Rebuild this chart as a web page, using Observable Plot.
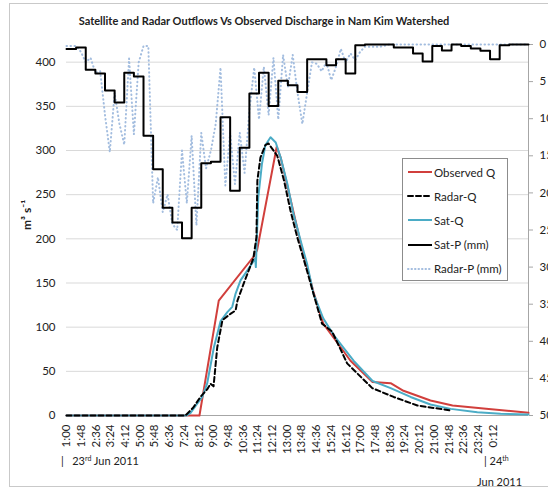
<!DOCTYPE html>
<html>
<head>
<meta charset="utf-8">
<script src="https://cdn.jsdelivr.net/npm/d3@7"></script>
<script src="https://cdn.jsdelivr.net/npm/@observablehq/plot@0.6"></script>
<style>
  html, body { margin: 0; padding: 0; background: #fff; overflow: hidden; }
  #wrap { position: relative; width: 548px; height: 488px; overflow: hidden; font-family: Lato, "Open Sans", sans-serif; color: #222; }
  #border { position: absolute; left: 9px; top: 3px; width: 600px; height: 484px; border: 1px solid #c9c9c9; box-sizing: border-box; }
  #chart { position: absolute; left: 0; top: 0; width: 560px; height: 488px; }
  #chart svg { max-width: none !important; }
  #title { position: absolute; left: 0; top: 14px; width: 528px; text-align: center; font-weight: bold; font-size: 11px; line-height: 14px; white-space: nowrap; }
  #legend { position: absolute; left: 402px; top: 158px; width: 106px; height: 123px; border: 1px solid #8c8c8c; background: #fff; box-sizing: border-box; }
  .lrow { position: absolute; left: 4px; height: 16px; display: flex; align-items: center; font-size: 11.5px; white-space: nowrap; }
  .lrow svg { margin-right: 1px; }
  .note { position: absolute; font-size: 11px; line-height: 12px; white-space: nowrap; }
  .note sup { font-size: 7px; vertical-align: 4px; line-height: 0; }
</style>
</head>
<body>
<div id="wrap">
  <div id="border"></div>
  <div id="chart"></div>
  <div id="title"></div>
  <div id="legend"></div>
  <div class="note" style="left:61px; top:455px;">|&nbsp;&nbsp; 23<sup>rd</sup> Jun 2011</div>
  <div class="note" style="left:484px; top:455px;">| 24<sup>th</sup></div>
  <div class="note" style="left:477px; top:476px;">Jun 2011</div>
</div>
<script>
// ---- Text ----
const titleText = "Satellite and Radar Outflows Vs Observed Discharge in Nam Kim Watershed";
const yLabel = "m³ s⁻¹";

// ---- Axes ----
// x: minutes after 01:00, 23 Jun 2011
const X_END = 1508;
const xTickLabels = ["1:00","1:48","2:36","3:24","4:12","5:00","5:48","6:36","7:24","8:12",
  "9:00","9:48","10:36","11:24","12:12","13:00","13:48","14:36","15:24","16:12",
  "17:00","17:48","18:36","19:24","20:12","21:00","21:48","22:36","23:24","0:12"];
const xTickStep = 48; // minutes between labels
const leftTicks = [0, 50, 100, 150, 200, 250, 300, 350, 400];
const Q_TOP = 420;          // top of discharge axis (m3/s)
const rightTicksMm = [0, 5, 10, 15, 20, 25, 30, 35, 40, 45, 50];
const P_MAX = 50;           // bottom of reversed precipitation axis (mm)

// ---- Discharge series (time in minutes after 01:00, Q in m3/s) ----
const obsT = [0,434,497,611,622,686,699,731,764,806,838,872,927,999,1058,1100,1188,1260,1361,1508];
const obsQ = [0,0,130,180,187,304,292,245,196,140,104,88,62,38,36.6,28,17,11.3,8,3];

const radarQT = [0,388,414,437,460,470,480,492,509,535,552,558,578,610,620,623,633,649,659,688,710,731,753,785,806,834,867,916,998,1068,1145,1254];
const radarQ  = [0,0,9,21,30,36,33,77,108,115,119,130,149,178,202,266,292,306,308,294,266,232,202,164,138,104,95,59,31,21,11.3,5.7];

const satQT = [0,392,405,426,443,459,481,503,525,541,552,568,590,611,616,618,626,638,649,666,683,699,721,741,764,785,806,838,872,937,999,1058,1123,1188,1254,1341,1417,1508];
const satQ  = [0,0,3,13,21,36,77,107,117,123,138,153,164,175,178,168,247,285,306,315,309,292,262,228,198,172,138,110,91,62,39,31,21,12.5,7.5,3.8,2,1];

// ---- Precipitation (mm), regular intervals from 01:00 ----
const satPStep = 31.42;   // minutes per satellite interval
const satP = [0.6,0.4,3.4,3.9,6.2,7.8,3.8,4.3,12.3,16.8,
  22.0,24.0,26.1,22.0,16.0,15.8,9.8,19.7,13.9,6.6,
  3.8,8.3,4.9,5.5,6.4,2.0,2.0,2.8,2.0,3.9,
  0.1,0,0,0,0.4,0.4,1.2,2.3,0.2,0.8,
  0,0.2,0.55,0.85,2.0,0.1,0,0];

const radarPStep = 15.71; // minutes per radar interval
const radarP = [0.2,0.2,0.2,1.0,2.4,1.8,3.8,3.6,9.5,14.5,
  6.5,10.7,13.5,1.9,12.1,2.4,0.2,0.2,21.4,17.9,
  22.6,20.2,24.2,25.0,14.3,21.4,12.3,24.4,11.9,16.7,
  14.3,10.7,3.1,19.0,11.9,18.8,11.9,17.3,8.9,3.1,
  10.1,3.0,9.5,1.8,10.1,1.4,5.7,1.4,6.5,10.7,
  6.5,2.4,2.6,3.6,2.4,4.8,3.0,0.6,2.4,1.2,
  2.1,1.0,0.3,0.3,0.3,0.3,0.2,0,0,0,
  0,0,0,0,0,0,0,0,0,0,
  0,0,0,0,0,0,0,0,0,0,
  0,0,0,0,0,0,0];

// ---- Legend ----
const legendLabels = ["Observed Q", "Radar-Q", "Sat-Q", "Sat-P (mm)", "Radar-P (mm)"];
const colors = {obs: "#d13f3c", radarQ: "#000000", satQ: "#4bacc6", satP: "#000000", radarP: "#a3bddf"};

// ---- Build tables ----
const toQ = mm => Q_TOP - mm * Q_TOP / P_MAX;
const obsRows = obsT.map((t, i) => ({t, q: obsQ[i]}));
const radarQRows = radarQT.map((t, i) => ({t, q: radarQ[i]}));
const satQRows = satQT.map((t, i) => ({t, q: satQ[i]}));
const satPRows = satP.map((p, i) => ({t: i * satPStep, p})).concat([{t: X_END, p: satP[satP.length - 1]}]);
const radarPRows = radarP.map((p, i) => ({t: Math.min(i * radarPStep, X_END), p}));

const chart = Plot.plot({
  width: 560,
  height: 488,
  marginLeft: 66,
  marginRight: 32,
  marginTop: 44,
  marginBottom: 73,
  x: {domain: [0, X_END]},
  y: {domain: [0, Q_TOP]},
  style: {fontFamily: "Lato, 'Open Sans', sans-serif", fontSize: "11.5px", color: "#222", background: "transparent", overflow: "visible", maxWidth: "none"},
  marks: [
    Plot.gridY(leftTicks, {stroke: "#d9d9d9", strokeOpacity: 1}),
    Plot.ruleY([0], {stroke: "#a6a6a6"}),
    Plot.ruleX([X_END], {stroke: "#a6a6a6"}),
    Plot.axisY(leftTicks, {anchor: "left", tickSize: 0, tickPadding: 11, label: null}),
    Plot.axisY(rightTicksMm.map(toQ), {anchor: "right", tickSize: 4, tickPadding: 7, stroke: "#a6a6a6", fill: "#222",
      tickFormat: v => String(Math.round((Q_TOP - v) * P_MAX / Q_TOP)), label: null}),
    Plot.axisX(xTickLabels.map((_, i) => i * xTickStep), {anchor: "bottom", tickRotate: -90, tickSize: 0, tickPadding: 9,
      tickFormat: v => xTickLabels[Math.round(v / xTickStep)], label: null}),
    Plot.text([yLabel], {text: d => d, frameAnchor: "left", dx: -39, rotate: -90, fontWeight: "bold", fontSize: 12}),
    Plot.line(radarPRows, {x: "t", y: d => toQ(d.p), stroke: colors.radarP, strokeWidth: 2, strokeDasharray: "0.5,3.5", strokeLinecap: "round"}),
    Plot.line(satPRows, {x: "t", y: d => toQ(d.p), curve: "step-after", stroke: colors.satP, strokeWidth: 2}),
    Plot.line(obsRows, {x: "t", y: "q", stroke: colors.obs, strokeWidth: 2}),
    Plot.line(satQRows, {x: "t", y: "q", stroke: colors.satQ, strokeWidth: 2}),
    Plot.line(radarQRows, {x: "t", y: "q", stroke: colors.radarQ, strokeWidth: 2, strokeDasharray: "5,3"})
  ]
});
chart.style.maxWidth = "none";
document.getElementById("chart").appendChild(chart);
document.getElementById("title").textContent = titleText;

// legend rows
const legendStyles = [
  {stroke: colors.obs, dash: null},
  {stroke: colors.radarQ, dash: "5,3"},
  {stroke: colors.satQ, dash: null},
  {stroke: colors.satP, dash: null},
  {stroke: colors.radarP, dash: "0.5,3"}
];
const legend = document.getElementById("legend");
legendLabels.forEach((lab, i) => {
  const row = document.createElement("div");
  row.className = "lrow";
  row.style.top = (5 + i * 24.2) + "px";
  const ns = "http://www.w3.org/2000/svg";
  const s = document.createElementNS(ns, "svg");
  s.setAttribute("width", 26); s.setAttribute("height", 16);
  const ln = document.createElementNS(ns, "line");
  ln.setAttribute("x1", 1); ln.setAttribute("x2", 25); ln.setAttribute("y1", 8); ln.setAttribute("y2", 8);
  ln.setAttribute("stroke", legendStyles[i].stroke); ln.setAttribute("stroke-width", 2);
  if (legendStyles[i].dash) { ln.setAttribute("stroke-dasharray", legendStyles[i].dash); ln.setAttribute("stroke-linecap", "round"); }
  s.appendChild(ln);
  row.appendChild(s);
  const sp = document.createElement("span");
  sp.textContent = lab;
  row.appendChild(sp);
  legend.appendChild(row);
});
</script>
</body>
</html>
